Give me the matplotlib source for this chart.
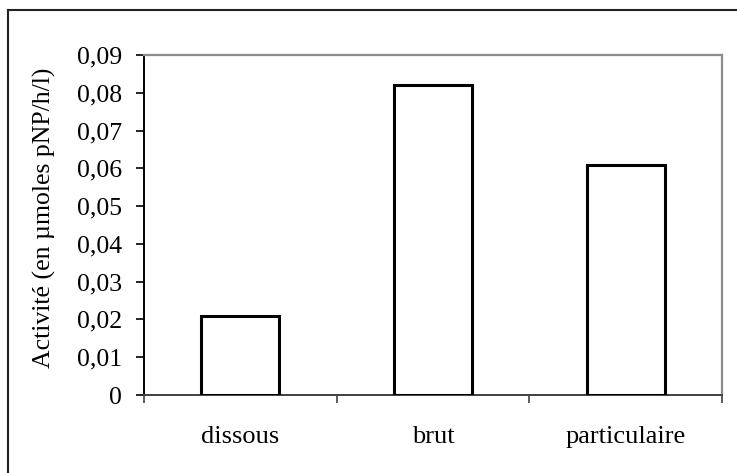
import matplotlib
matplotlib.use('Agg')
import matplotlib.pyplot as plt
from matplotlib.lines import Line2D
from matplotlib.ticker import FuncFormatter

plt.rcParams['font.family'] = ['Liberation Serif', 'DejaVu Serif']

# ── Data ──────────────────────────────────────────────────────────────────────
categories = ["dissous", "brut", "particulaire"]
activite   = [0.021, 0.082, 0.061]
yticks     = [0, 0.01, 0.02, 0.03, 0.04, 0.05, 0.06, 0.07, 0.08, 0.09]

# ── Plot ──────────────────────────────────────────────────────────────────────
fig = plt.figure(figsize=(7.37, 4.73), dpi=100)
ax = fig.add_axes([0.1954, 0.1649, 0.7842, 0.7188])

x = range(len(categories))
ax.bar(x, activite, width=0.405, facecolor='white', edgecolor='black', linewidth=2.2, zorder=3)

ax.set_xlim(-0.5, len(categories) - 0.5)
ax.set_ylim(0, 0.09)
ax.set_yticks(yticks)
ax.yaxis.set_major_formatter(FuncFormatter(lambda v, p: "0" if v == 0 else f"{v:.2f}".replace(".", ",")))

# category labels centred, ticks on category boundaries
ax.set_xticks([i - 0.5 for i in range(len(categories) + 1)])
ax.set_xticklabels([])
ax.set_xticks(list(x), minor=True)
ax.set_xticklabels(categories, minor=True, fontsize=19)
ax.tick_params(axis='x', which='minor', length=0, pad=22)
ax.tick_params(axis='x', which='major', length=6, width=1.2, color='#404040', direction='out')
ax.tick_params(axis='y', length=6, width=1.2, labelsize=18.5, pad=10, direction='out')

for side in ['top', 'right']:
    ax.spines[side].set_color('#8c8c8c')
    ax.spines[side].set_linewidth(1.6)
ax.spines['left'].set_color('black')
ax.spines['left'].set_linewidth(1.4)
ax.spines['bottom'].set_color('#404040')
ax.spines['bottom'].set_linewidth(1.4)

ax.set_ylabel("Activité (en µmoles pNP/h/l)", fontsize=18.5)
ax.yaxis.set_label_coords(-0.152, 0.52)

# outer frame (only top and left edges fall inside the image)
fig.add_artist(Line2D([0.0109, 1.01], [0.979, 0.979], transform=fig.transFigure, color='#222222', lw=1.5))
fig.add_artist(Line2D([0.0109, 0.0109], [-0.01, 0.979], transform=fig.transFigure, color='#222222', lw=1.5))

plt.savefig("out.png", dpi=100)
